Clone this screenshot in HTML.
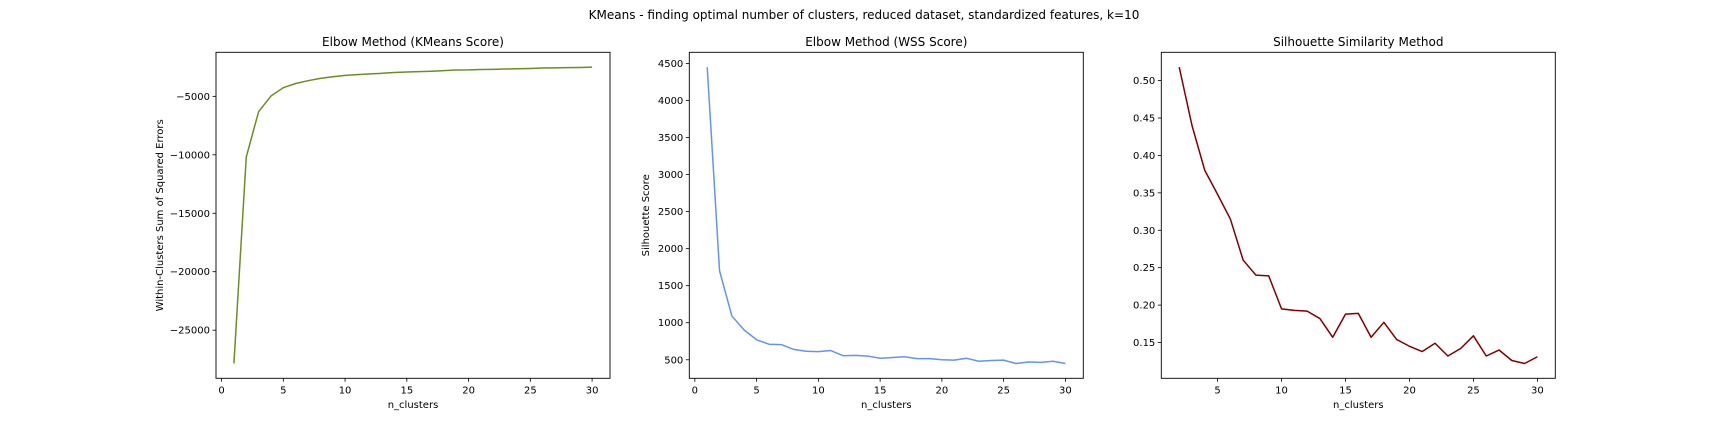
<!DOCTYPE html>
<html><head><meta charset="utf-8">
<style>
body{margin:0;background:#fff;}
svg{display:block;font-family:"DejaVu Sans","Liberation Sans",sans-serif;}
</style></head>
<body>
<svg id="fig" width="1728" height="432" viewBox="0 0 1728 432">
<text x="864" y="19" text-anchor="middle" font-size="12">KMeans - finding optimal number of clusters, reduced dataset, standardized features, k=10</text>
</svg>
<script>
const ks1 = [1,2,3,4,5,6,7,8,9,10,11,12,13,14,15,16,17,18,19,20,21,22,23,24,25,26,27,28,29,30];
const kmeansScore = [-27850,-10190,-6310,-4975,-4260,-3900,-3660,-3460,-3320,-3210,-3140,-3080,-3030,-2960,-2920,-2890,-2850,-2800,-2750,-2740,-2700,-2690,-2660,-2640,-2620,-2580,-2560,-2540,-2530,-2500];
const wssScore = [4450,1700,1090,900,770,710,705,640,615,610,625,555,560,550,520,530,540,515,515,500,495,520,480,490,495,450,470,465,480,450];
const ks3 = [2,3,4,5,6,7,8,9,10,11,12,13,14,15,16,17,18,19,20,21,22,23,24,25,26,27,28,29,30];
const silScore = [0.518,0.44,0.38,0.348,0.315,0.26,0.24,0.239,0.195,0.193,0.192,0.182,0.157,0.188,0.189,0.157,0.177,0.154,0.145,0.138,0.149,0.132,0.142,0.159,0.132,0.14,0.126,0.122,0.131];
const xTicks = [0,5,10,15,20,25,30];
const yTicks1 = [-25000,-20000,-15000,-10000,-5000];
const yTicks2 = [500,1000,1500,2000,2500,3000,3500,4000,4500];
const yTicks3 = [0.15,0.20,0.25,0.30,0.35,0.40,0.45,0.50];

const NS = "http://www.w3.org/2000/svg";
const svg = document.getElementById('fig');
function mk(tag, attrs, parent){const e=document.createElementNS(NS,tag);for(const k in attrs)e.setAttribute(k,attrs[k]);(parent||svg).appendChild(e);return e;}

function panel(cfg){
  const L=cfg.left,R=cfg.left+394,T=52.3,B=378.3;
  const xmin=Math.min(...cfg.xs),xmax=Math.max(...cfg.xs),xm=(xmax-xmin)*0.05;
  const ymin=Math.min(...cfg.ys),ymax=Math.max(...cfg.ys),ym=(ymax-ymin)*0.05;
  const sx=v=>L+(v-(xmin-xm))/((xmax+xm)-(xmin-xm))*(R-L);
  const sy=v=>B-(v-(ymin-ym))/((ymax+ym)-(ymin-ym))*(B-T);
  const g=mk('g',{});
  
  
  const pts=cfg.xs.map((x,i)=>sx(x).toFixed(2)+','+sy(cfg.ys[i]).toFixed(2)).join(' ');
  const line=mk('polyline',{points:pts,fill:'none',stroke:cfg.color,'stroke-width':1.5,'stroke-linejoin':'round'},g);
  
  
  const frame=mk('rect',{x:L,y:T,width:R-L,height:B-T,fill:'none',stroke:'#000','stroke-width':0.9},g);
  
  
  cfg.xt.forEach(t=>{const x=sx(t);
    mk('line',{x1:x,x2:x,y1:B,y2:B+3.5,stroke:'#000','stroke-width':0.8},g);
    const tx=mk('text',{x:x,y:B+15,'text-anchor':'middle','font-size':10},g);tx.textContent=t;
    
    
  });
  cfg.yt.forEach(t=>{const y=sy(t);
    mk('line',{x1:L-3.5,x2:L,y1:y,y2:y,stroke:'#000','stroke-width':0.8},g);
    const tx=mk('text',{x:L-6,y:y+3.5,'text-anchor':'end','font-size':10},g);tx.textContent=cfg.fmt(t);
    
    
  });
  const ti=mk('text',{x:(L+R)/2,y:46,'text-anchor':'middle','font-size':12},g);ti.textContent=cfg.title;
  
  
  const xl=mk('text',{x:(L+R)/2,y:408,'text-anchor':'middle','font-size':10},g);xl.textContent='n_clusters';
  
  
  if(cfg.ylabel){const cx=cfg.ylx,cy=(T+B)/2;
    const yl=mk('text',{x:cx,y:cy,'text-anchor':'middle','font-size':10,transform:`rotate(-90 ${cx} ${cy})`},g);yl.textContent=cfg.ylabel;
    
    
  }
}
panel({name:'kmeans-score-panel',left:216,xs:ks1,ys:kmeansScore,color:'#6b8e23',xt:xTicks,yt:yTicks1,fmt:v=>String(v).replace('-','\u2212'),title:'Elbow Method (KMeans Score)',ylabel:'Within-Clusters Sum of Squared Errors',ylx:163});
panel({name:'wss-score-panel',left:689.3,xs:ks1,ys:wssScore,color:'#6495ed',xt:xTicks,yt:yTicks2,fmt:v=>String(v),title:'Elbow Method (WSS Score)',ylabel:'Silhouette Score',ylx:649});
panel({name:'silhouette-panel',left:1161.3,xs:ks3,ys:silScore,color:'#800000',xt:[5,10,15,20,25,30],yt:yTicks3,fmt:v=>v.toFixed(2),title:'Silhouette Similarity Method'});
</script>
</body></html>
